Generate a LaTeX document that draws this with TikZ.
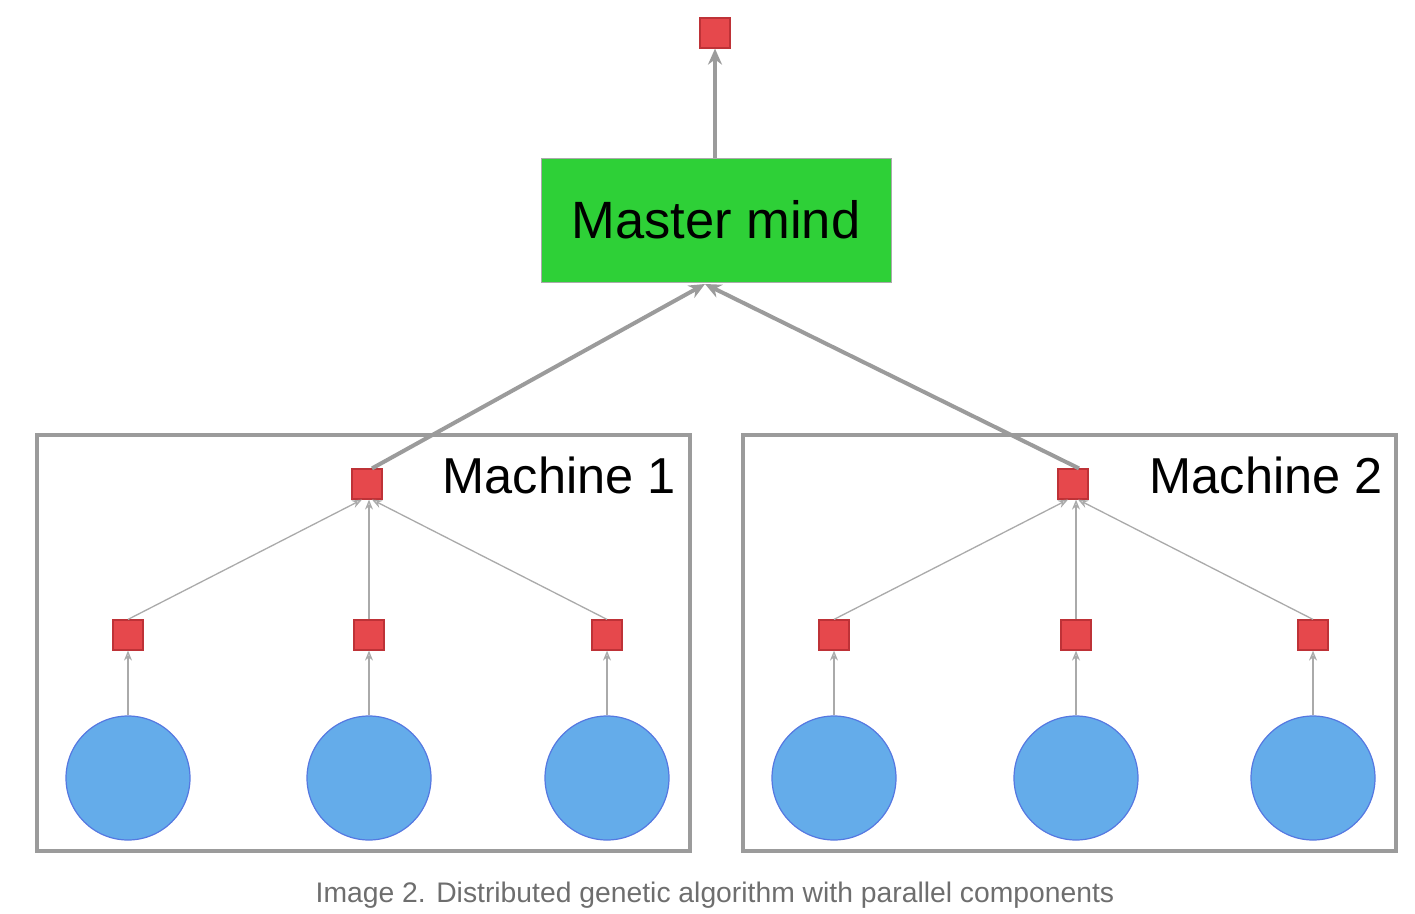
\documentclass[tikz,border=0pt]{standalone}
\usepackage{fontspec}
\setmainfont{Liberation Sans}
\usetikzlibrary{arrows.meta}
\definecolor{sqred}{RGB}{230,72,76}
\definecolor{sqedge}{RGB}{190,50,55}
\definecolor{mgreen}{RGB}{46,208,55}
\definecolor{cblue}{RGB}{100,172,234}
\definecolor{cedge}{RGB}{85,120,225}
\definecolor{lgray}{RGB}{155,155,155}
\definecolor{tgray}{RGB}{170,170,170}
\definecolor{capgray}{RGB}{110,110,110}
\tikzset{
  redsq/.style={draw=sqedge, line width=1.2pt, fill=sqred, minimum size=30pt, inner sep=0pt},
  blob/.style={circle, draw=cedge, line width=1.2pt, fill=cblue, minimum size=124pt, inner sep=0pt},
  machine/.style={draw=lgray, line width=4pt},
  thick arrow/.style={draw=lgray, line width=4pt, -{Stealth[length=16pt,width=14pt]}},
  thin arrow/.style={draw=tgray, line width=1.3pt, -{Stealth[open,length=10pt,width=8pt]}},
  lbl/.style={font=\fontsize{50.5}{50.5}\selectfont, inner sep=0pt, anchor=base east}
}
\begin{document}
\begin{tikzpicture}[x=1pt,y=-1pt]
\useasboundingbox (0,0) rectangle (1415,913);
% machine boxes
\draw[machine] (37,435) rectangle (690,851);
\draw[machine] (743,435) rectangle (1396,851);
\node[lbl] (m1) at (676,493) {Machine 1};
\node[lbl] (m2) at (1383,493) {Machine 2};
% master mind
\node[draw=tgray, line width=1pt, fill=mgreen, minimum width=350pt, minimum height=124pt, inner sep=0pt,
      font=\fontsize{52.5}{52.5}\selectfont] (mm) at (716,220) {Master mind};
\node[redsq] (top) at (715,33) {};
\draw[thick arrow] (mm.north -| top) -- (top.south);
% machine roots
\node[redsq] (r1) at (367,484) {};
\node[redsq] (r2) at (1073,484) {};
\coordinate (mmb) at (705,284);
\draw[thick arrow] ([xshift=5pt]r1.north) -- (mmb);
\draw[thick arrow] ([xshift=6pt]r2.north) -- (mmb);
% machine 1 children
\foreach \x/\n in {128/a,369/b,607/c}{
  \node[redsq] (s\n) at (\x,635) {};
  \node[blob] (c\n) at (\x,778) {};
  \draw[thin arrow] (c\n.north) -- (s\n.south);
}
\draw[thin arrow] (sa.north) -- ([xshift=-5pt]r1.south);
\draw[thin arrow] (sb.north) -- (sb.north |- r1.south);
\draw[thin arrow] (sc.north) -- ([xshift=5pt]r1.south);
% machine 2 children
\foreach \x/\n in {834/d,1076/e,1313/f}{
  \node[redsq] (s\n) at (\x,635) {};
  \node[blob] (c\n) at (\x,778) {};
  \draw[thin arrow] (c\n.north) -- (s\n.south);
}
\draw[thin arrow] (sd.north) -- ([xshift=-5pt]r2.south);
\draw[thin arrow] (se.north) -- (se.north |- r2.south);
\draw[thin arrow] (sf.north) -- ([xshift=5pt]r2.south);
% caption
\node[font=\fontsize{28.3}{28.3}\selectfont, text=capgray, inner sep=0pt] (cap) at (715,895) {Image 2. Distributed genetic algorithm with parallel components};
\end{tikzpicture}
\end{document}
